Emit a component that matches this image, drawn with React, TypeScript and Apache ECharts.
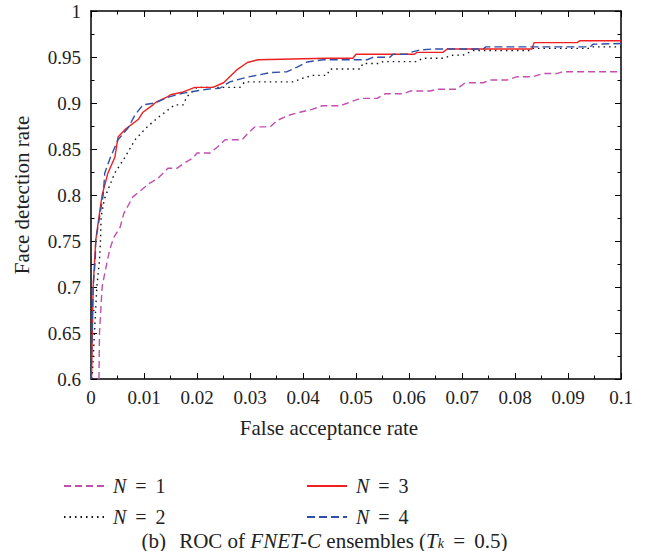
import React, { useEffect, useRef } from "react";
import * as echarts from "echarts";

const xTicks = { min: 0, max: 0.1, interval: 0.01 };
const yTicks = { min: 0.6, max: 1, interval: 0.05 };

const seriesNames = ["N = 1", "N = 2", "N = 3", "N = 4"];

const n1: [number, number][] = [
  [0.0015, 0.6], [0.0016, 0.65], [0.0021, 0.7], [0.0026, 0.715], [0.0035, 0.74],
  [0.0043, 0.754], [0.0055, 0.765], [0.0062, 0.78], [0.0079, 0.798], [0.0092, 0.804],
  [0.0111, 0.813], [0.0126, 0.818], [0.0145, 0.829], [0.0162, 0.829], [0.0174, 0.834],
  [0.0192, 0.84], [0.02, 0.8456], [0.0225, 0.8456], [0.0238, 0.852], [0.0253, 0.86],
  [0.0285, 0.86], [0.0296, 0.867], [0.0309, 0.874], [0.0338, 0.874], [0.0351, 0.881],
  [0.0375, 0.887], [0.0394, 0.89], [0.0417, 0.893], [0.0436, 0.897], [0.047, 0.897],
  [0.0489, 0.901], [0.0508, 0.905], [0.054, 0.905], [0.0555, 0.91], [0.0589, 0.91],
  [0.0602, 0.913], [0.064, 0.913], [0.0653, 0.915], [0.069, 0.915], [0.0706, 0.922],
  [0.074, 0.922], [0.0753, 0.925], [0.0785, 0.925], [0.0804, 0.9286], [0.0834, 0.9286],
  [0.0853, 0.932], [0.0879, 0.932], [0.089, 0.934], [0.1, 0.934],
];

const n2: [number, number][] = [
  [0.0002, 0.6], [0.0011, 0.7], [0.0016, 0.729], [0.0018, 0.751], [0.0019, 0.776],
  [0.0025, 0.795], [0.0028, 0.8], [0.0045, 0.824], [0.0064, 0.841], [0.0083, 0.86],
  [0.0104, 0.873], [0.0126, 0.884], [0.0158, 0.898], [0.0174, 0.898], [0.0181, 0.907],
  [0.02, 0.917], [0.0281, 0.917], [0.029, 0.923], [0.0381, 0.923], [0.04, 0.927],
  [0.0419, 0.93], [0.0445, 0.93], [0.0451, 0.937], [0.0508, 0.937], [0.0513, 0.943],
  [0.0545, 0.943], [0.0551, 0.945], [0.0615, 0.945], [0.0626, 0.9486], [0.0664, 0.9486],
  [0.0683, 0.952], [0.0702, 0.952], [0.0721, 0.957], [0.0828, 0.957], [0.0832, 0.9594],
  [0.0942, 0.9594], [0.0947, 0.961], [0.1, 0.961],
];

const n3: [number, number][] = [
  [0.0001, 0.6], [0.0004, 0.7], [0.0009, 0.751], [0.0017, 0.784], [0.0021, 0.8],
  [0.0032, 0.824], [0.0045, 0.841], [0.0051, 0.863], [0.0064, 0.871], [0.0089, 0.882],
  [0.0098, 0.89], [0.0117, 0.898], [0.0123, 0.901], [0.0145, 0.907], [0.015, 0.909],
  [0.0174, 0.912], [0.0196, 0.917], [0.023, 0.917], [0.025, 0.922], [0.0275, 0.936],
  [0.0295, 0.944], [0.0315, 0.947], [0.0445, 0.9486], [0.0494, 0.9486], [0.05, 0.953],
  [0.061, 0.953], [0.0615, 0.955], [0.0664, 0.955], [0.0672, 0.9587], [0.0832, 0.9587],
  [0.0836, 0.9656], [0.0917, 0.9656], [0.0923, 0.9677], [0.1, 0.9677],
];

const n4: [number, number][] = [
  [0.0, 0.6], [0.0004, 0.7], [0.0008, 0.729], [0.0009, 0.751], [0.0023, 0.8],
  [0.0026, 0.824], [0.0036, 0.84], [0.0051, 0.86], [0.007, 0.873], [0.0083, 0.887],
  [0.0098, 0.898], [0.012, 0.9], [0.0149, 0.907], [0.0177, 0.911], [0.0219, 0.915],
  [0.0243, 0.916], [0.0262, 0.923], [0.0294, 0.928], [0.0338, 0.933], [0.037, 0.934],
  [0.0389, 0.939], [0.0408, 0.9446], [0.0438, 0.947], [0.0521, 0.947], [0.0532, 0.9497],
  [0.0564, 0.9497], [0.057, 0.953], [0.0596, 0.953], [0.0602, 0.955], [0.062, 0.9576],
  [0.0645, 0.9587], [0.074, 0.9587], [0.0745, 0.961], [0.0942, 0.961], [0.0947, 0.9638],
  [0.1, 0.9647],
];

const FONT = "Liberation Serif";
const INK = "#222";

export default function App() {
  const ref = useRef<HTMLDivElement>(null);
  useEffect(() => {
    document.body.style.margin = "0";
    const chart = echarts.init(ref.current!, undefined, { renderer: "svg" });
    const axisCommon = {
      type: "value" as const,
      axisLine: { show: true, onZero: false, lineStyle: { color: "#000", width: 1.5 } },
      axisTick: { show: true, inside: true, length: 6, lineStyle: { color: "#000", width: 1 } },
      minorTick: { show: true, splitNumber: 2, length: 3.5, lineStyle: { color: "#000", width: 1 } },
      splitLine: { show: false },
      minorSplitLine: { show: false },
    };
    const LS = 20;
    const legendText = {
      fontFamily: FONT,
      fontSize: LS,
      color: INK,
      rich: {
        i: { fontFamily: FONT, fontSize: LS, fontStyle: "italic", color: INK, padding: [0, 0, 0, 4] },
        s: { fontFamily: FONT, fontSize: LS, color: INK, padding: [0, 2, 0, 2] },
        r: { fontFamily: FONT, fontSize: LS, color: INK },
      },
    };
    // "N = k" with math-style spacing around "="
    const fmt = (name: string) => {
      const parts = name.split(" ");
      return "{i|" + parts[0] + "}{s| }{r|" + parts[1] + "}{s| }{r|" + parts[2] + "}";
    };
    const legendBase = {
      orient: "vertical",
      top: 471,
      itemWidth: 40,
      itemHeight: 14,
      itemGap: 11,
      formatter: fmt,
      textStyle: legendText,
      itemStyle: { opacity: 0 },
    };
    const CS = 21;
    const LH = 19;
    chart.setOption({
      animation: false,
      backgroundColor: "#fff",
      grid: { left: 91, right: 28, top: 11, bottom: 172 },
      xAxis: [
        {
          ...axisCommon,
          ...xTicks,
          position: "bottom",
          name: "False acceptance rate",
          nameLocation: "middle",
          nameGap: 38,
          nameTextStyle: { fontFamily: FONT, fontSize: 21, color: INK, padding: [0, 54, 0, 0] },
          axisLabel: { fontFamily: FONT, fontSize: 19, color: INK, margin: 9 },
        },
        {
          ...axisCommon,
          ...xTicks,
          position: "top",
          axisLabel: { show: false },
        },
      ],
      yAxis: [
        {
          ...axisCommon,
          ...yTicks,
          position: "left",
          name: "Face detection rate",
          nameLocation: "middle",
          nameGap: 59,
          nameTextStyle: { fontFamily: FONT, fontSize: 21, color: INK },
          axisLabel: { fontFamily: FONT, fontSize: 19, color: INK, margin: 10 },
        },
        {
          ...axisCommon,
          ...yTicks,
          position: "right",
          axisLabel: { show: false },
        },
      ],
      legend: [
        { ...legendBase, left: 58, data: [seriesNames[0], seriesNames[1]] },
        { ...legendBase, left: 301, data: [seriesNames[2], seriesNames[3]] },
      ],
      graphic: [
        {
          type: "text",
          left: "center",
          top: 530,
          style: {
            text: "{r|(b)}{g| }{r|ROC of }{i|FNET-C}{r| ensembles (}{i|T}{sub|k}{s| }{r|=}{s| }{r|0.5)}",
            fontFamily: FONT,
            fontSize: CS,
            lineHeight: LH,
            fill: INK,
            rich: {
              r: { fontFamily: FONT, fontSize: CS, lineHeight: LH, fill: INK },
              i: { fontFamily: FONT, fontSize: CS, lineHeight: LH, fontStyle: "italic", fill: INK },
              g: { fontFamily: FONT, fontSize: CS, lineHeight: LH, fill: INK, padding: [0, 4, 0, 4] },
              s: { fontFamily: FONT, fontSize: CS, lineHeight: LH, fill: INK, padding: [0, 2, 0, 2] },
              sub: { fontFamily: FONT, fontSize: 14, lineHeight: 12, fontStyle: "italic", fill: INK, verticalAlign: "bottom" },
            },
          },
        },
      ],
      series: [
        {
          name: seriesNames[0], type: "line", data: n1, symbol: "none",
          lineStyle: { color: "#c24fb0", width: 1.4, type: [7, 4] },
          itemStyle: { color: "#c24fb0" },
        },
        {
          name: seriesNames[1], type: "line", data: n2, symbol: "none",
          lineStyle: { color: "#111", width: 1.4, type: [1.5, 4] },
          itemStyle: { color: "#111" },
        },
        {
          name: seriesNames[2], type: "line", data: n3, symbol: "none",
          lineStyle: { color: "#f02020", width: 1.4, type: "solid" },
          itemStyle: { color: "#f02020" },
        },
        {
          name: seriesNames[3], type: "line", data: n4, symbol: "none",
          lineStyle: { color: "#2f4fa8", width: 1.4, type: [8, 4] },
          itemStyle: { color: "#2f4fa8" },
        },
      ],
    });
    return () => chart.dispose();
  }, []);
  return <div ref={ref} style={{ width: 649, height: 551 }} />;
}
